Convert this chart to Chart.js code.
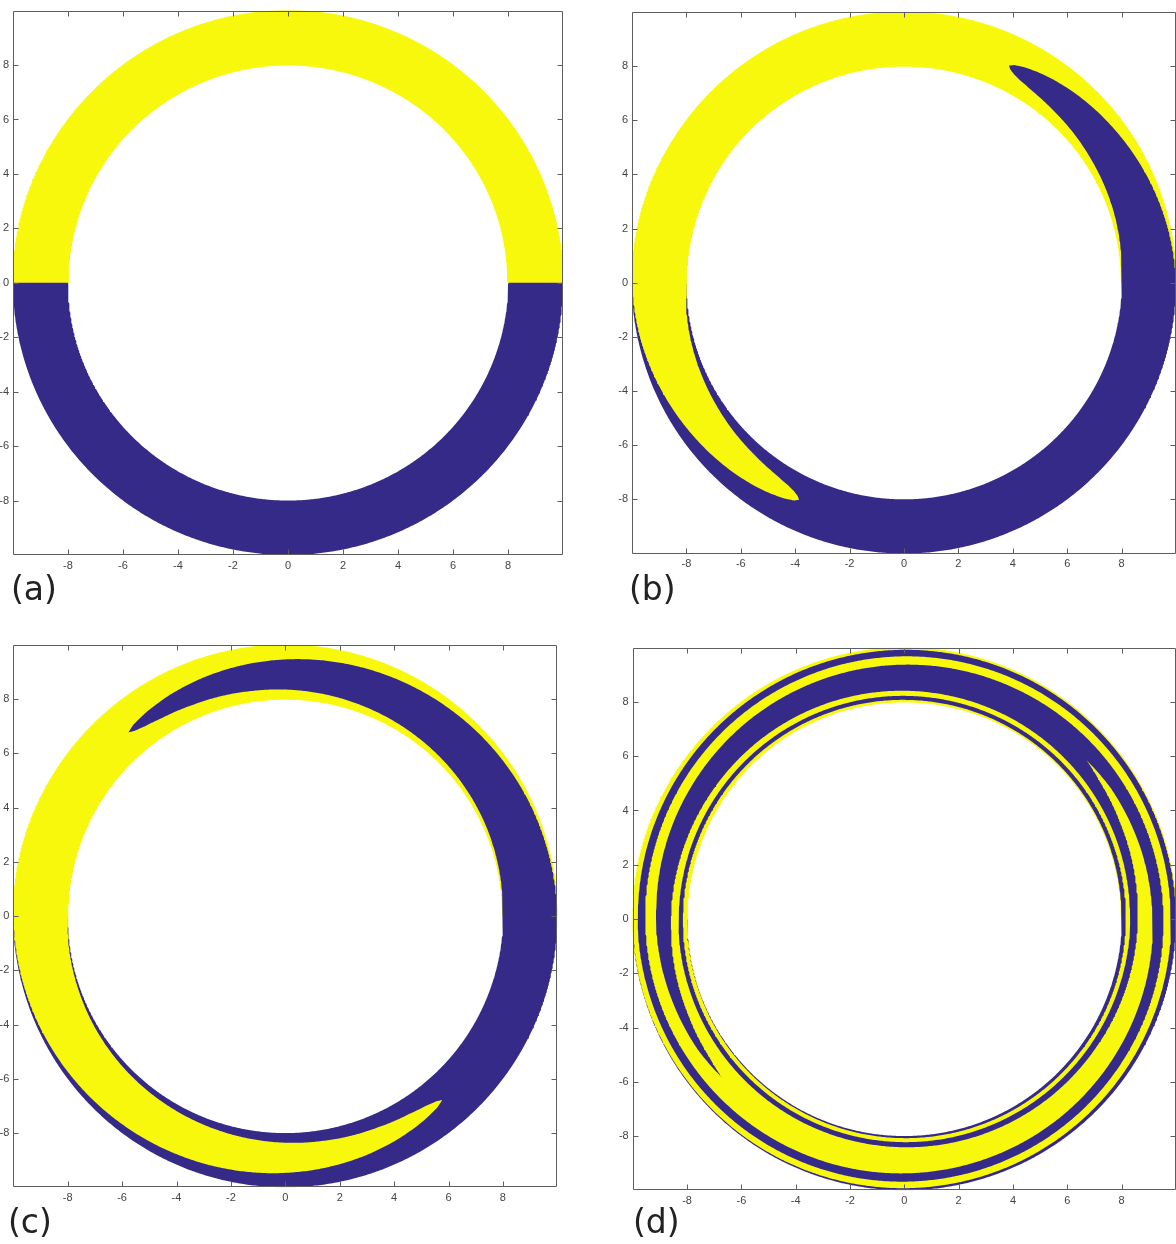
<!DOCTYPE html>
<html>
<head>
<meta charset="utf-8">
<script src="https://cdn.jsdelivr.net/npm/chart.js@4.4.1/dist/chart.umd.min.js"></script>
<style>
  html, body { margin: 0; padding: 0; background: #fff; overflow: hidden; }
  #fig { position: relative; width: 1176px; height: 1244px; overflow: hidden; background: #fff; }
  #fig canvas { position: absolute; }
  .tag { position: absolute; font-family: 'DejaVu Sans', sans-serif; font-size: 33px; line-height: 33px; color: #222; white-space: nowrap; }
</style>
</head>
<body>
<div id="fig"></div>
<script>
// Axis tick values shared by both axes of every panel
const axisTicks = [-8, -6, -4, -2, 0, 2, 4, 6, 8];
// Inner and outer wall radii of the annulus
const ringRadii = [8, 10];
// Panel captions
const panelTags = ['(a)', '(b)', '(c)', '(d)'];
// Angle (degrees) reached by the interface at its peak radius, per panel
const tipAngles = [0, 64.3, 130.4, 581];
// Radial shape of the interface displacement (0 at the walls, 1 at the peak)
const profileRadii = [8.00, 8.05, 8.10, 8.15, 8.20, 8.25, 8.30, 8.40, 8.50, 8.60, 8.70, 8.80, 8.90,
                      9.00, 9.10, 9.20, 9.30, 9.40, 9.50, 9.60, 9.70, 9.80, 9.85, 9.90, 9.95, 10.00];
const profileShape = [0.000, 0.100, 0.200, 0.305, 0.415, 0.515, 0.600, 0.760, 0.870, 0.935, 0.970, 0.990, 1.000,
                      0.985, 0.950, 0.900, 0.835, 0.755, 0.660, 0.555, 0.445, 0.330, 0.265, 0.195, 0.105, 0.000];

const UPPER = '#f8f80d';   // fluid that started in the upper half
const LOWER = '#352a87';   // fluid that started in the lower half

function polar(r, deg) {
  const a = deg * Math.PI / 180;
  return { x: r * Math.cos(a), y: r * Math.sin(a) };
}

// Interface line traced in polar coordinates from the inner wall to the outer wall
function interfaceCurve(tip, phase) {
  const pts = [];
  for (let i = 0; i < profileRadii.length - 1; i++) {
    const r0 = profileRadii[i], r1 = profileRadii[i + 1];
    const f0 = profileShape[i], f1 = profileShape[i + 1];
    const n = Math.max(2, Math.ceil(Math.abs(tip * (f1 - f0)) / 0.4));
    for (let k = 0; k < n; k++) {
      const u = k / n;
      pts.push(polar(r0 + (r1 - r0) * u, phase + tip * (f0 + (f1 - f0) * u)));
    }
  }
  const last = profileRadii.length - 1;
  pts.push(polar(profileRadii[last], phase + tip * profileShape[last]));
  return pts;
}

function arc(r, from, to) {
  const pts = [];
  const n = Math.max(2, Math.ceil(Math.abs(to - from) / 0.4));
  for (let k = 0; k <= n; k++) pts.push(polar(r, from + (to - from) * k / n));
  return pts;
}

// Region of the annulus between two copies of the interface half a turn apart
function strip(tip, phase) {
  const last = profileShape.length - 1;
  const tIn = tip * profileShape[0], tOut = tip * profileShape[last];
  const a = interfaceCurve(tip, phase);
  const b = interfaceCurve(tip, phase + 180).reverse();
  return [
    ...a,
    ...arc(ringRadii[1], phase + tOut, phase + 180 + tOut).slice(1),
    ...b.slice(1),
    ...arc(ringRadii[0], phase + 180 + tIn, phase + tIn).slice(1, -1)
  ];
}

// Boxed frame with inward tick marks on all four sides
const framePlugin = {
  id: 'frame',
  afterDatasetsDraw(chart) {
    const { ctx, chartArea: a, scales: { x, y } } = chart;
    const L = Math.round(a.left) + 0.5, R = Math.round(a.right) - 0.5;
    const T = Math.round(a.top) + 0.5, B = Math.round(a.bottom) - 0.5;
    ctx.save();
    ctx.strokeStyle = '#5e5e5e';
    ctx.lineWidth = 1;
    ctx.beginPath();
    ctx.rect(L, T, R - L, B - T);
    const len = 5;
    axisTicks.forEach(v => {
      const px = Math.round(x.getPixelForValue(v)) + 0.5;
      const py = Math.round(y.getPixelForValue(v)) + 0.5;
      ctx.moveTo(px, B); ctx.lineTo(px, B - len);
      ctx.moveTo(px, T); ctx.lineTo(px, T + len);
      ctx.moveTo(L, py); ctx.lineTo(L + len, py);
      ctx.moveTo(R, py); ctx.lineTo(R - len, py);
    });
    ctx.stroke();
    ctx.restore();
  }
};

const tickFont = { family: "'Liberation Sans', Arial, sans-serif", size: 11 };

function axis(fitFn) {
  return {
    type: 'linear', min: -10, max: 10,
    afterBuildTicks: s => { s.ticks = axisTicks.map(v => ({ value: v })); },
    afterFit: fitFn,
    grid: { display: false, drawTicks: false },
    border: { display: false },
    ticks: { padding: 4, color: '#444', font: tickFont, maxRotation: 0, autoSkip: false,
             callback: v => String(v) }
  };
}

// Panel placement: canvas box and plot-area edges in page pixels
const panels = [
  { cx: 0,   cy: 0,   area: { l: 13,    t: 8.7,   r: 563,    b: 555 },    tag: { x: 11,  y: 572 } },
  { cx: 600, cy: 0,   area: { l: 632,   t: 12,    r: 1176,   b: 553.5 },  tag: { x: 629, y: 572 } },
  { cx: 0,   cy: 620, area: { l: 13.3,  t: 645,   r: 557.3,  b: 1187.3 }, tag: { x: 8,   y: 1205 } },
  { cx: 600, cy: 620, area: { l: 632.7, t: 647.7, r: 1176,   b: 1190.3 }, tag: { x: 633, y: 1205 } }
];

const fig = document.getElementById('fig');
const CW = 600, CH = 620, XAXIS_H = 30;

panels.forEach((p, i) => {
  const cv = document.createElement('canvas');
  cv.width = CW; cv.height = CH;
  cv.style.left = p.cx + 'px'; cv.style.top = p.cy + 'px';
  cv.style.width = CW + 'px'; cv.style.height = CH + 'px';
  fig.appendChild(cv);

  const tag = document.createElement('div');
  tag.className = 'tag';
  tag.textContent = panelTags[i];
  tag.style.left = p.tag.x + 'px';
  tag.style.top = p.tag.y + 'px';
  fig.appendChild(tag);

  const yw = p.area.l - p.cx;
  const tip = tipAngles[i];

  // The lower-half fluid is drawn on top without an outline; the upper-half
  // fluid underneath carries a thin outline so no seam shows between them.
  new Chart(cv, {
    type: 'line',
    data: {
      datasets: [
        { label: 'lower', data: strip(tip, 180), backgroundColor: LOWER, borderColor: LOWER, borderWidth: 0 },
        { label: 'upper', data: strip(tip, 0),   backgroundColor: UPPER, borderColor: UPPER, borderWidth: 1 }
      ].map(d => Object.assign(d, {
        fill: 'shape', borderJoinStyle: 'round', borderCapStyle: 'round',
        pointRadius: 0, pointHoverRadius: 0, tension: 0
      }))
    },
    options: {
      responsive: false,
      animation: false,
      devicePixelRatio: 1,
      events: [],
      layout: {
        padding: {
          left: 0,
          top: p.area.t - p.cy,
          right: p.cx + CW - p.area.r,
          bottom: p.cy + CH - p.area.b - XAXIS_H
        }
      },
      plugins: { legend: { display: false }, tooltip: { enabled: false } },
      scales: {
        x: axis(s => { s.height = XAXIS_H; }),
        y: axis(s => { s.width = yw; })
      }
    },
    plugins: [framePlugin]
  });
});
</script>
</body>
</html>
